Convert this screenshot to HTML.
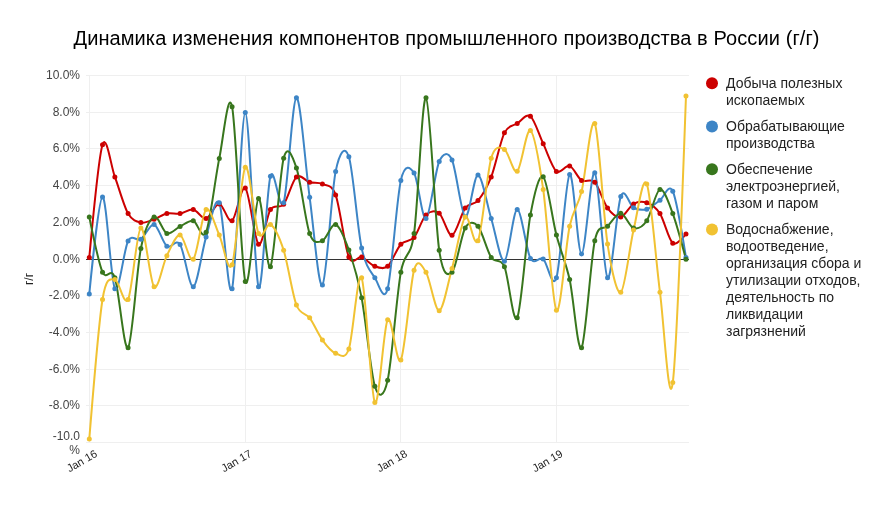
<!DOCTYPE html>
<html><head><meta charset="utf-8">
<style>
html,body{margin:0;padding:0;background:#fff;}
body{width:889px;height:510px;overflow:hidden;position:relative;}
svg{position:absolute;left:0;top:0;font-family:"Liberation Sans",sans-serif;will-change:transform;}
</style></head><body>
<svg width="889" height="510" viewBox="0 0 889 510">
<rect width="889" height="510" fill="#fff"/>
<text x="73.5" y="44.5" font-size="20" fill="#000" textLength="746" lengthAdjust="spacing">Динамика изменения компонентов промышленного производства в России (г/г)</text>
<g stroke="#efefef" stroke-width="1" shape-rendering="crispEdges">
<line x1="86" x2="689" y1="75.5" y2="75.5"/>
<line x1="86" x2="689" y1="112.5" y2="112.5"/>
<line x1="86" x2="689" y1="148.5" y2="148.5"/>
<line x1="86" x2="689" y1="185.5" y2="185.5"/>
<line x1="86" x2="689" y1="222.5" y2="222.5"/>
<line x1="86" x2="689" y1="295.5" y2="295.5"/>
<line x1="86" x2="689" y1="332.5" y2="332.5"/>
<line x1="86" x2="689" y1="369.5" y2="369.5"/>
<line x1="86" x2="689" y1="405.5" y2="405.5"/>
<line x1="86" x2="689" y1="442.5" y2="442.5"/>
<line x1="89.5" x2="89.5" y1="75" y2="442"/>
<line x1="245.5" x2="245.5" y1="75" y2="442"/>
<line x1="400.5" x2="400.5" y1="75" y2="442"/>
<line x1="556.5" x2="556.5" y1="75" y2="442"/>
</g>
<line x1="86" x2="689" y1="259.5" y2="259.5" stroke="#333" stroke-width="1" shape-rendering="crispEdges"/>
<g font-size="12" fill="#444" text-anchor="end">
<text x="80" y="79">10.0%</text>
<text x="80" y="116">8.0%</text>
<text x="80" y="152">6.0%</text>
<text x="80" y="189">4.0%</text>
<text x="80" y="226">2.0%</text>
<text x="80" y="263">0.0%</text>
<text x="80" y="299">-2.0%</text>
<text x="80" y="336">-4.0%</text>
<text x="80" y="373">-6.0%</text>
<text x="80" y="409">-8.0%</text>
<text x="80" y="440">-10.0</text>
<text x="80" y="453.5">%</text>
</g>
<text transform="translate(33,279) rotate(-90)" font-size="12" fill="#222" text-anchor="middle">г/г</text>
<g font-size="11" fill="#222" text-anchor="end">
<text transform="translate(98,456) rotate(-30)">Jan 16</text>
<text transform="translate(252.5,456) rotate(-30)">Jan 17</text>
<text transform="translate(408,456) rotate(-30)">Jan 18</text>
<text transform="translate(563.5,456) rotate(-30)">Jan 19</text>
</g>
<g fill="none" stroke-width="2" stroke-linejoin="round" stroke-linecap="round">
<path d="M89.30,257.47C89.30,257.47 98.55,157.28 102.51,144.80C106.48,132.31 110.91,166.24 114.87,176.91C118.84,187.57 124.05,206.53 128.08,213.61C132.11,220.69 136.84,221.72 140.87,222.60C144.90,223.48 150.05,220.72 154.08,219.30C158.11,217.87 162.84,214.31 166.87,213.43C170.90,212.54 175.98,214.21 180.08,213.61C184.18,213.01 189.26,208.80 193.29,209.57C197.32,210.34 202.05,219.44 206.08,218.56C210.11,217.68 215.26,203.54 219.29,203.88C223.32,204.22 228.05,223.21 232.08,220.77C236.11,218.32 241.19,184.46 245.29,188.10C249.38,191.74 254.60,240.93 258.50,244.25C262.40,247.58 266.54,215.77 270.44,209.57C274.33,203.37 279.62,209.31 283.65,204.25C287.68,199.19 292.40,180.32 296.43,176.91C300.46,173.50 305.62,181.12 309.65,182.23C313.68,183.34 318.40,182.10 322.43,184.06C326.46,186.03 331.55,183.57 335.64,194.89C339.74,206.21 344.83,247.46 348.86,257.10C352.89,266.74 357.61,255.68 361.64,257.10C365.67,258.52 370.82,264.85 374.85,266.27C378.88,267.70 383.61,269.69 387.64,266.27C391.67,262.86 396.76,248.72 400.85,244.25C404.95,239.79 410.17,242.01 414.06,237.46C417.96,232.91 422.10,218.65 426.00,214.89C429.90,211.14 435.18,210.08 439.21,213.24C443.24,216.40 447.97,236.06 452.00,235.26C456.03,234.47 461.18,213.48 465.21,208.10C469.24,202.73 473.96,205.42 477.99,200.58C482.02,195.74 487.11,187.40 491.21,176.91C495.30,166.41 500.39,141.15 504.42,132.87C508.45,124.59 513.18,126.10 517.20,123.51C521.23,120.92 526.39,113.04 530.42,116.17C534.45,119.30 539.17,135.13 543.20,143.69C547.23,152.26 552.32,167.96 556.42,171.40C560.51,174.85 565.73,164.50 569.63,165.90C573.52,167.29 577.66,177.86 581.56,180.40C585.46,182.93 590.74,177.94 594.77,182.23C598.80,186.52 603.53,202.70 607.56,208.10C611.59,213.51 616.74,217.75 620.77,217.10C624.80,216.44 629.53,206.10 633.56,203.88C637.59,201.66 642.67,201.27 646.77,202.78C650.87,204.29 655.95,207.35 659.98,213.61C664.01,219.87 668.74,239.99 672.77,243.15C676.80,246.31 685.98,233.98 685.98,233.98" stroke="#cc0000"/>
<path d="M89.30,293.98C89.30,293.98 98.55,197.73 102.51,196.91C106.48,196.09 110.91,281.83 114.87,288.66C118.84,295.49 124.05,248.60 128.08,240.95C132.11,233.30 136.84,241.86 140.87,239.30C144.90,236.74 150.05,223.35 154.08,224.44C158.11,225.52 162.84,243.17 166.87,246.27C170.90,249.37 175.98,238.15 180.08,244.44C184.18,250.72 189.26,287.96 193.29,286.82C197.32,285.69 202.05,250.12 206.08,237.10C210.11,224.07 215.26,194.79 219.29,202.78C223.32,210.77 228.05,302.65 232.08,288.66C236.11,274.67 241.19,112.78 245.29,112.50C249.38,112.22 254.60,276.96 258.50,286.82C262.40,296.69 266.54,189.20 270.44,176.17C274.33,163.15 279.62,214.93 283.65,202.78C287.68,190.64 292.40,98.67 296.43,97.82C300.46,96.97 305.62,168.27 309.65,197.28C313.68,226.29 318.40,289.00 322.43,284.99C326.46,280.98 331.55,191.28 335.64,171.40C339.74,151.52 344.83,144.83 348.86,156.72C352.89,168.61 357.61,229.33 361.64,248.11C365.67,266.88 370.82,271.55 374.85,277.83C378.88,284.12 383.61,303.76 387.64,288.66C391.67,273.56 396.76,198.31 400.85,180.40C404.95,162.48 410.17,167.14 414.06,173.06C417.96,178.97 422.10,220.35 426.00,218.56C429.90,216.77 435.18,170.57 439.21,161.49C443.24,152.42 447.97,151.47 452.00,160.03C456.03,168.59 461.18,214.42 465.21,216.73C469.24,219.03 473.96,174.61 477.99,174.89C482.02,175.17 487.11,205.20 491.21,218.56C495.30,231.93 500.39,262.53 504.42,261.13C508.45,259.74 513.18,210.00 517.20,209.57C521.23,209.14 526.39,250.73 530.42,258.38C534.45,266.03 539.17,255.92 543.20,258.93C547.23,261.95 552.32,290.92 556.42,277.83C560.51,264.75 565.73,178.22 569.63,174.52C573.52,170.83 577.66,254.26 581.56,253.98C585.46,253.69 590.74,168.99 594.77,172.69C598.80,176.39 603.53,274.14 607.56,277.83C611.59,281.53 616.74,207.41 620.77,196.54C624.80,185.68 629.53,205.77 633.56,207.74C637.59,209.70 642.67,210.37 646.77,209.20C650.87,208.04 655.95,203.00 659.98,200.21C664.01,197.43 668.74,182.35 672.77,191.22C676.80,200.10 685.98,257.47 685.98,257.47" stroke="#3d85c6"/>
<path d="M89.30,217.10C89.30,217.10 98.55,262.76 102.51,272.15C106.48,281.53 110.91,265.93 114.87,277.65C118.84,289.37 124.05,352.27 128.08,347.75C132.11,343.22 136.84,268.75 140.87,248.47C144.90,228.19 150.05,219.24 154.08,216.91C158.11,214.58 162.84,231.95 166.87,233.43C170.90,234.91 175.98,228.42 180.08,226.45C184.18,224.49 189.26,219.88 193.29,220.77C197.32,221.65 202.05,241.81 206.08,232.14C210.11,222.47 215.26,177.80 219.29,158.38C223.32,138.95 228.05,87.73 232.08,106.81C236.11,125.90 241.19,267.31 245.29,281.50C249.38,295.70 254.60,200.68 258.50,198.38C262.40,196.07 266.54,272.87 270.44,266.64C274.33,260.41 279.62,173.49 283.65,158.19C287.68,142.89 292.40,156.23 296.43,167.92C300.46,179.61 305.62,222.32 309.65,233.61C313.68,244.90 318.40,242.19 322.43,240.77C326.46,239.34 331.55,222.98 335.64,224.44C339.74,225.89 344.83,238.75 348.86,250.12C352.89,261.50 357.61,276.73 361.64,297.84C365.67,318.94 370.82,373.51 374.85,386.28C378.88,399.05 383.61,397.92 387.64,380.23C391.67,362.54 396.76,294.87 400.85,272.15C404.95,249.42 410.17,260.63 414.06,233.61C417.96,206.59 422.10,95.23 426.00,97.82C429.90,100.41 435.18,223.26 439.21,250.31C443.24,277.36 447.97,275.77 452.00,272.33C456.03,268.89 461.18,235.24 465.21,228.11C469.24,220.97 473.96,221.72 477.99,226.27C482.02,230.82 487.11,251.21 491.21,257.47C495.30,263.72 500.39,257.28 504.42,266.64C508.45,276.00 513.18,325.86 517.20,317.84C521.23,309.82 526.39,236.77 530.42,214.89C534.45,193.02 539.17,173.60 543.20,176.73C547.23,179.85 552.32,219.15 556.42,235.08C560.51,251.01 565.73,262.02 569.63,279.49C573.52,296.95 577.66,353.75 581.56,347.75C585.46,341.75 590.74,259.60 594.77,240.77C598.80,221.94 603.53,230.54 607.56,226.27C611.59,222.00 616.74,212.96 620.77,213.24C624.80,213.53 629.53,226.94 633.56,228.11C637.59,229.27 642.67,226.77 646.77,220.77C650.87,214.76 655.95,190.50 659.98,189.39C664.01,188.28 668.74,202.77 672.77,213.61C676.80,224.45 685.98,259.30 685.98,259.30" stroke="#38761d"/>
<path d="M89.30,438.95C89.30,438.95 98.55,324.20 102.51,299.49C106.48,274.77 110.91,279.49 114.87,279.49C118.84,279.49 124.05,307.48 128.08,299.49C132.11,291.49 136.84,229.88 140.87,227.92C144.90,225.96 150.05,282.53 154.08,286.82C158.11,291.12 162.84,263.65 166.87,255.63C170.90,247.61 175.98,234.51 180.08,235.08C184.18,235.65 189.26,263.25 193.29,259.30C197.32,255.35 202.05,213.33 206.08,209.57C210.11,205.82 215.26,226.52 219.29,235.08C223.32,243.64 228.05,275.33 232.08,264.81C236.11,254.28 241.19,172.02 245.29,167.18C249.38,162.35 254.60,224.74 258.50,233.61C262.40,242.48 266.54,221.85 270.44,224.44C274.33,227.02 279.62,237.82 283.65,250.31C287.68,262.79 292.40,294.52 296.43,304.99C300.46,315.46 305.62,312.40 309.65,317.84C313.68,323.27 318.40,334.55 322.43,340.04C326.46,345.53 331.55,351.86 335.64,353.25C339.74,354.65 344.83,360.72 348.86,349.03C352.89,337.34 357.61,269.56 361.64,277.83C365.67,286.11 370.82,395.95 374.85,402.43C378.88,408.91 383.61,326.24 387.64,319.67C391.67,313.10 396.76,367.72 400.85,360.04C404.95,352.36 410.17,283.72 414.06,270.13C417.96,256.53 422.10,266.04 426.00,272.33C429.90,278.61 435.18,311.28 439.21,310.68C443.24,310.08 447.97,282.98 452.00,268.48C456.03,253.97 461.18,221.39 465.21,217.10C469.24,212.80 473.96,249.90 477.99,240.77C482.02,231.64 487.11,172.36 491.21,158.19C495.30,144.03 500.39,147.36 504.42,149.38C508.45,151.40 513.18,174.15 517.20,171.22C521.23,168.29 526.39,127.67 530.42,130.48C534.45,133.30 539.17,161.51 543.20,189.39C547.23,217.26 552.32,304.60 556.42,310.31C560.51,316.03 565.73,244.67 569.63,226.27C573.52,207.87 577.66,207.52 581.56,191.59C585.46,175.66 590.74,115.38 594.77,123.51C598.80,131.64 603.53,217.90 607.56,244.07C611.59,270.24 616.74,294.52 620.77,292.33C624.80,290.14 629.53,246.75 633.56,229.94C637.59,213.13 642.67,174.21 646.77,183.88C650.87,193.55 655.95,261.53 659.98,292.33C664.01,323.13 668.74,413.05 672.77,382.61C676.80,352.18 685.98,95.98 685.98,95.98" stroke="#f1c232"/>
</g>
<g fill="#cc0000"><circle cx="89.30" cy="257.47" r="2.5"/><circle cx="102.51" cy="144.80" r="2.5"/><circle cx="114.87" cy="176.91" r="2.5"/><circle cx="128.08" cy="213.61" r="2.5"/><circle cx="140.87" cy="222.60" r="2.5"/><circle cx="154.08" cy="219.30" r="2.5"/><circle cx="166.87" cy="213.43" r="2.5"/><circle cx="180.08" cy="213.61" r="2.5"/><circle cx="193.29" cy="209.57" r="2.5"/><circle cx="206.08" cy="218.56" r="2.5"/><circle cx="219.29" cy="203.88" r="2.5"/><circle cx="232.08" cy="220.77" r="2.5"/><circle cx="245.29" cy="188.10" r="2.5"/><circle cx="258.50" cy="244.25" r="2.5"/><circle cx="270.44" cy="209.57" r="2.5"/><circle cx="283.65" cy="204.25" r="2.5"/><circle cx="296.43" cy="176.91" r="2.5"/><circle cx="309.65" cy="182.23" r="2.5"/><circle cx="322.43" cy="184.06" r="2.5"/><circle cx="335.64" cy="194.89" r="2.5"/><circle cx="348.86" cy="257.10" r="2.5"/><circle cx="361.64" cy="257.10" r="2.5"/><circle cx="374.85" cy="266.27" r="2.5"/><circle cx="387.64" cy="266.27" r="2.5"/><circle cx="400.85" cy="244.25" r="2.5"/><circle cx="414.06" cy="237.46" r="2.5"/><circle cx="426.00" cy="214.89" r="2.5"/><circle cx="439.21" cy="213.24" r="2.5"/><circle cx="452.00" cy="235.26" r="2.5"/><circle cx="465.21" cy="208.10" r="2.5"/><circle cx="477.99" cy="200.58" r="2.5"/><circle cx="491.21" cy="176.91" r="2.5"/><circle cx="504.42" cy="132.87" r="2.5"/><circle cx="517.20" cy="123.51" r="2.5"/><circle cx="530.42" cy="116.17" r="2.5"/><circle cx="543.20" cy="143.69" r="2.5"/><circle cx="556.42" cy="171.40" r="2.5"/><circle cx="569.63" cy="165.90" r="2.5"/><circle cx="581.56" cy="180.40" r="2.5"/><circle cx="594.77" cy="182.23" r="2.5"/><circle cx="607.56" cy="208.10" r="2.5"/><circle cx="620.77" cy="217.10" r="2.5"/><circle cx="633.56" cy="203.88" r="2.5"/><circle cx="646.77" cy="202.78" r="2.5"/><circle cx="659.98" cy="213.61" r="2.5"/><circle cx="672.77" cy="243.15" r="2.5"/><circle cx="685.98" cy="233.98" r="2.5"/></g>
<g fill="#3d85c6"><circle cx="89.30" cy="293.98" r="2.5"/><circle cx="102.51" cy="196.91" r="2.5"/><circle cx="114.87" cy="288.66" r="2.5"/><circle cx="128.08" cy="240.95" r="2.5"/><circle cx="140.87" cy="239.30" r="2.5"/><circle cx="154.08" cy="224.44" r="2.5"/><circle cx="166.87" cy="246.27" r="2.5"/><circle cx="180.08" cy="244.44" r="2.5"/><circle cx="193.29" cy="286.82" r="2.5"/><circle cx="206.08" cy="237.10" r="2.5"/><circle cx="219.29" cy="202.78" r="2.5"/><circle cx="232.08" cy="288.66" r="2.5"/><circle cx="245.29" cy="112.50" r="2.5"/><circle cx="258.50" cy="286.82" r="2.5"/><circle cx="270.44" cy="176.17" r="2.5"/><circle cx="283.65" cy="202.78" r="2.5"/><circle cx="296.43" cy="97.82" r="2.5"/><circle cx="309.65" cy="197.28" r="2.5"/><circle cx="322.43" cy="284.99" r="2.5"/><circle cx="335.64" cy="171.40" r="2.5"/><circle cx="348.86" cy="156.72" r="2.5"/><circle cx="361.64" cy="248.11" r="2.5"/><circle cx="374.85" cy="277.83" r="2.5"/><circle cx="387.64" cy="288.66" r="2.5"/><circle cx="400.85" cy="180.40" r="2.5"/><circle cx="414.06" cy="173.06" r="2.5"/><circle cx="426.00" cy="218.56" r="2.5"/><circle cx="439.21" cy="161.49" r="2.5"/><circle cx="452.00" cy="160.03" r="2.5"/><circle cx="465.21" cy="216.73" r="2.5"/><circle cx="477.99" cy="174.89" r="2.5"/><circle cx="491.21" cy="218.56" r="2.5"/><circle cx="504.42" cy="261.13" r="2.5"/><circle cx="517.20" cy="209.57" r="2.5"/><circle cx="530.42" cy="258.38" r="2.5"/><circle cx="543.20" cy="258.93" r="2.5"/><circle cx="556.42" cy="277.83" r="2.5"/><circle cx="569.63" cy="174.52" r="2.5"/><circle cx="581.56" cy="253.98" r="2.5"/><circle cx="594.77" cy="172.69" r="2.5"/><circle cx="607.56" cy="277.83" r="2.5"/><circle cx="620.77" cy="196.54" r="2.5"/><circle cx="633.56" cy="207.74" r="2.5"/><circle cx="646.77" cy="209.20" r="2.5"/><circle cx="659.98" cy="200.21" r="2.5"/><circle cx="672.77" cy="191.22" r="2.5"/><circle cx="685.98" cy="257.47" r="2.5"/></g>
<g fill="#38761d"><circle cx="89.30" cy="217.10" r="2.5"/><circle cx="102.51" cy="272.15" r="2.5"/><circle cx="114.87" cy="277.65" r="2.5"/><circle cx="128.08" cy="347.75" r="2.5"/><circle cx="140.87" cy="248.47" r="2.5"/><circle cx="154.08" cy="216.91" r="2.5"/><circle cx="166.87" cy="233.43" r="2.5"/><circle cx="180.08" cy="226.45" r="2.5"/><circle cx="193.29" cy="220.77" r="2.5"/><circle cx="206.08" cy="232.14" r="2.5"/><circle cx="219.29" cy="158.38" r="2.5"/><circle cx="232.08" cy="106.81" r="2.5"/><circle cx="245.29" cy="281.50" r="2.5"/><circle cx="258.50" cy="198.38" r="2.5"/><circle cx="270.44" cy="266.64" r="2.5"/><circle cx="283.65" cy="158.19" r="2.5"/><circle cx="296.43" cy="167.92" r="2.5"/><circle cx="309.65" cy="233.61" r="2.5"/><circle cx="322.43" cy="240.77" r="2.5"/><circle cx="335.64" cy="224.44" r="2.5"/><circle cx="348.86" cy="250.12" r="2.5"/><circle cx="361.64" cy="297.84" r="2.5"/><circle cx="374.85" cy="386.28" r="2.5"/><circle cx="387.64" cy="380.23" r="2.5"/><circle cx="400.85" cy="272.15" r="2.5"/><circle cx="414.06" cy="233.61" r="2.5"/><circle cx="426.00" cy="97.82" r="2.5"/><circle cx="439.21" cy="250.31" r="2.5"/><circle cx="452.00" cy="272.33" r="2.5"/><circle cx="465.21" cy="228.11" r="2.5"/><circle cx="477.99" cy="226.27" r="2.5"/><circle cx="491.21" cy="257.47" r="2.5"/><circle cx="504.42" cy="266.64" r="2.5"/><circle cx="517.20" cy="317.84" r="2.5"/><circle cx="530.42" cy="214.89" r="2.5"/><circle cx="543.20" cy="176.73" r="2.5"/><circle cx="556.42" cy="235.08" r="2.5"/><circle cx="569.63" cy="279.49" r="2.5"/><circle cx="581.56" cy="347.75" r="2.5"/><circle cx="594.77" cy="240.77" r="2.5"/><circle cx="607.56" cy="226.27" r="2.5"/><circle cx="620.77" cy="213.24" r="2.5"/><circle cx="633.56" cy="228.11" r="2.5"/><circle cx="646.77" cy="220.77" r="2.5"/><circle cx="659.98" cy="189.39" r="2.5"/><circle cx="672.77" cy="213.61" r="2.5"/><circle cx="685.98" cy="259.30" r="2.5"/></g>
<g fill="#f1c232"><circle cx="89.30" cy="438.95" r="2.5"/><circle cx="102.51" cy="299.49" r="2.5"/><circle cx="114.87" cy="279.49" r="2.5"/><circle cx="128.08" cy="299.49" r="2.5"/><circle cx="140.87" cy="227.92" r="2.5"/><circle cx="154.08" cy="286.82" r="2.5"/><circle cx="166.87" cy="255.63" r="2.5"/><circle cx="180.08" cy="235.08" r="2.5"/><circle cx="193.29" cy="259.30" r="2.5"/><circle cx="206.08" cy="209.57" r="2.5"/><circle cx="219.29" cy="235.08" r="2.5"/><circle cx="232.08" cy="264.81" r="2.5"/><circle cx="245.29" cy="167.18" r="2.5"/><circle cx="258.50" cy="233.61" r="2.5"/><circle cx="270.44" cy="224.44" r="2.5"/><circle cx="283.65" cy="250.31" r="2.5"/><circle cx="296.43" cy="304.99" r="2.5"/><circle cx="309.65" cy="317.84" r="2.5"/><circle cx="322.43" cy="340.04" r="2.5"/><circle cx="335.64" cy="353.25" r="2.5"/><circle cx="348.86" cy="349.03" r="2.5"/><circle cx="361.64" cy="277.83" r="2.5"/><circle cx="374.85" cy="402.43" r="2.5"/><circle cx="387.64" cy="319.67" r="2.5"/><circle cx="400.85" cy="360.04" r="2.5"/><circle cx="414.06" cy="270.13" r="2.5"/><circle cx="426.00" cy="272.33" r="2.5"/><circle cx="439.21" cy="310.68" r="2.5"/><circle cx="452.00" cy="268.48" r="2.5"/><circle cx="465.21" cy="217.10" r="2.5"/><circle cx="477.99" cy="240.77" r="2.5"/><circle cx="491.21" cy="158.19" r="2.5"/><circle cx="504.42" cy="149.38" r="2.5"/><circle cx="517.20" cy="171.22" r="2.5"/><circle cx="530.42" cy="130.48" r="2.5"/><circle cx="543.20" cy="189.39" r="2.5"/><circle cx="556.42" cy="310.31" r="2.5"/><circle cx="569.63" cy="226.27" r="2.5"/><circle cx="581.56" cy="191.59" r="2.5"/><circle cx="594.77" cy="123.51" r="2.5"/><circle cx="607.56" cy="244.07" r="2.5"/><circle cx="620.77" cy="292.33" r="2.5"/><circle cx="633.56" cy="229.94" r="2.5"/><circle cx="646.77" cy="183.88" r="2.5"/><circle cx="659.98" cy="292.33" r="2.5"/><circle cx="672.77" cy="382.61" r="2.5"/><circle cx="685.98" cy="95.98" r="2.5"/></g>
<g font-size="14" fill="#222">
<circle cx="712" cy="83.2" r="6" fill="#cc0000"/>
<text x="726" y="88"><tspan x="726">Добыча полезных</tspan><tspan x="726" dy="17">ископаемых</tspan></text>
<circle cx="712" cy="126.4" r="6" fill="#3d85c6"/>
<text x="726" y="131"><tspan x="726">Обрабатывающие</tspan><tspan x="726" dy="17">производства</tspan></text>
<circle cx="712" cy="169.2" r="6" fill="#38761d"/>
<text x="726" y="173.5"><tspan x="726">Обеспечение</tspan><tspan x="726" dy="17">электроэнергией,</tspan><tspan x="726" dy="17">газом и паром</tspan></text>
<circle cx="712" cy="229.6" r="6" fill="#f1c232"/>
<text x="726" y="234"><tspan x="726">Водоснабжение,</tspan><tspan x="726" dy="17">водоотведение,</tspan><tspan x="726" dy="17">организация сбора и</tspan><tspan x="726" dy="17">утилизации отходов,</tspan><tspan x="726" dy="17">деятельность по</tspan><tspan x="726" dy="17">ликвидации</tspan><tspan x="726" dy="17">загрязнений</tspan></text>
</g>
</svg>
</body></html>
